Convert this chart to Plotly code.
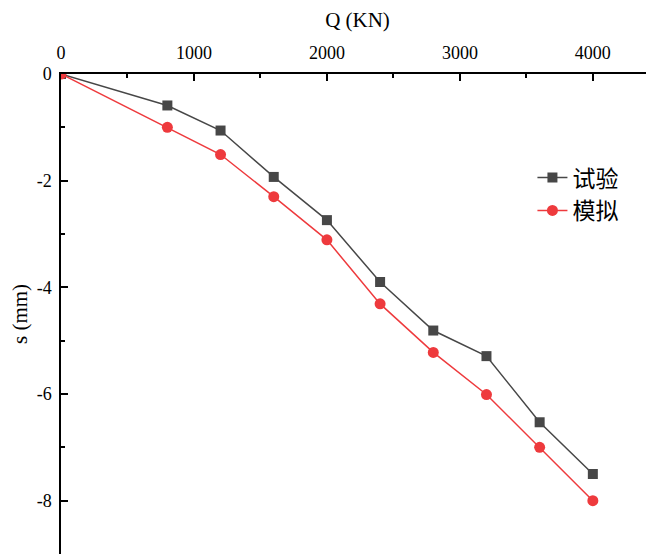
import plotly.graph_objects as go

q_load = [0, 800, 1200, 1600, 2000, 2400, 2800, 3200, 3600, 4000]
s_test = [0, -0.59, -1.06, -1.93, -2.74, -3.90, -4.81, -5.29, -6.53, -7.50]
s_sim = [0, -1.00, -1.51, -2.30, -3.11, -4.31, -5.22, -6.01, -7.00, -8.00]
x_ticks = [0, 1000, 2000, 3000, 4000]
x_labels = ["0", "1000", "2000", "3000", "4000"]
y_ticks = [0, -2, -4, -6, -8]
y_labels = ["0", "-2", "-4", "-6", "-8"]

gray = "#474747"
red = "#ee3a3d"

fig = go.Figure()
fig.add_trace(go.Scatter(
    x=q_load, y=s_test, name="试验", mode="lines+markers",
    line=dict(color=gray, width=1.5),
    marker=dict(symbol="square", size=10, color=gray),
))
fig.add_trace(go.Scatter(
    x=q_load, y=s_sim, name="模拟", mode="lines+markers",
    line=dict(color=red, width=1.5),
    marker=dict(symbol="circle", size=11, color=red),
))

axis_font = dict(family="Liberation Serif", size=18, color="black")
title_font = dict(family="Liberation Serif", size=21, color="black")
fig.update_layout(
    width=646, height=547,
    margin=dict(l=53, r=0, t=66, b=1),
    paper_bgcolor="white", plot_bgcolor="white",
    showlegend=True,
    legend=dict(x=0.795, y=0.829, xanchor="left", yanchor="top",
                font=dict(family="Noto Sans CJK SC", size=23, color="black"),
                bgcolor="rgba(0,0,0,0)", tracegroupgap=0, itemwidth=30),
    xaxis=dict(
        side="top", range=[0, 4460], tickvals=x_ticks, ticktext=x_labels,
        ticks="inside", ticklen=7, tickwidth=1.5, tickcolor="black",
        minor=dict(ticks="inside", ticklen=4, dtick=500, tickwidth=1.5, tickcolor="black"),
        showline=True, linecolor="black", linewidth=1.5,
        showgrid=False, zeroline=False, automargin=False,
        tickfont=axis_font, ticklabelstandoff=6,
        title=dict(text="Q (KN)", font=title_font, standoff=12),
    ),
    yaxis=dict(
        range=[-9, 0], tickvals=y_ticks, ticktext=y_labels,
        ticks="inside", ticklen=7, tickwidth=1.5, tickcolor="black",
        minor=dict(ticks="inside", ticklen=4, dtick=1, tickwidth=1.5, tickcolor="black"),
        showline=True, linecolor="black", linewidth=1.5,
        showgrid=False, zeroline=False, automargin=False,
        tickfont=axis_font, ticklabelstandoff=4,
        title=dict(text="s (mm)", font=title_font, standoff=6),
    ),
)

fig.write_html("out.html")
